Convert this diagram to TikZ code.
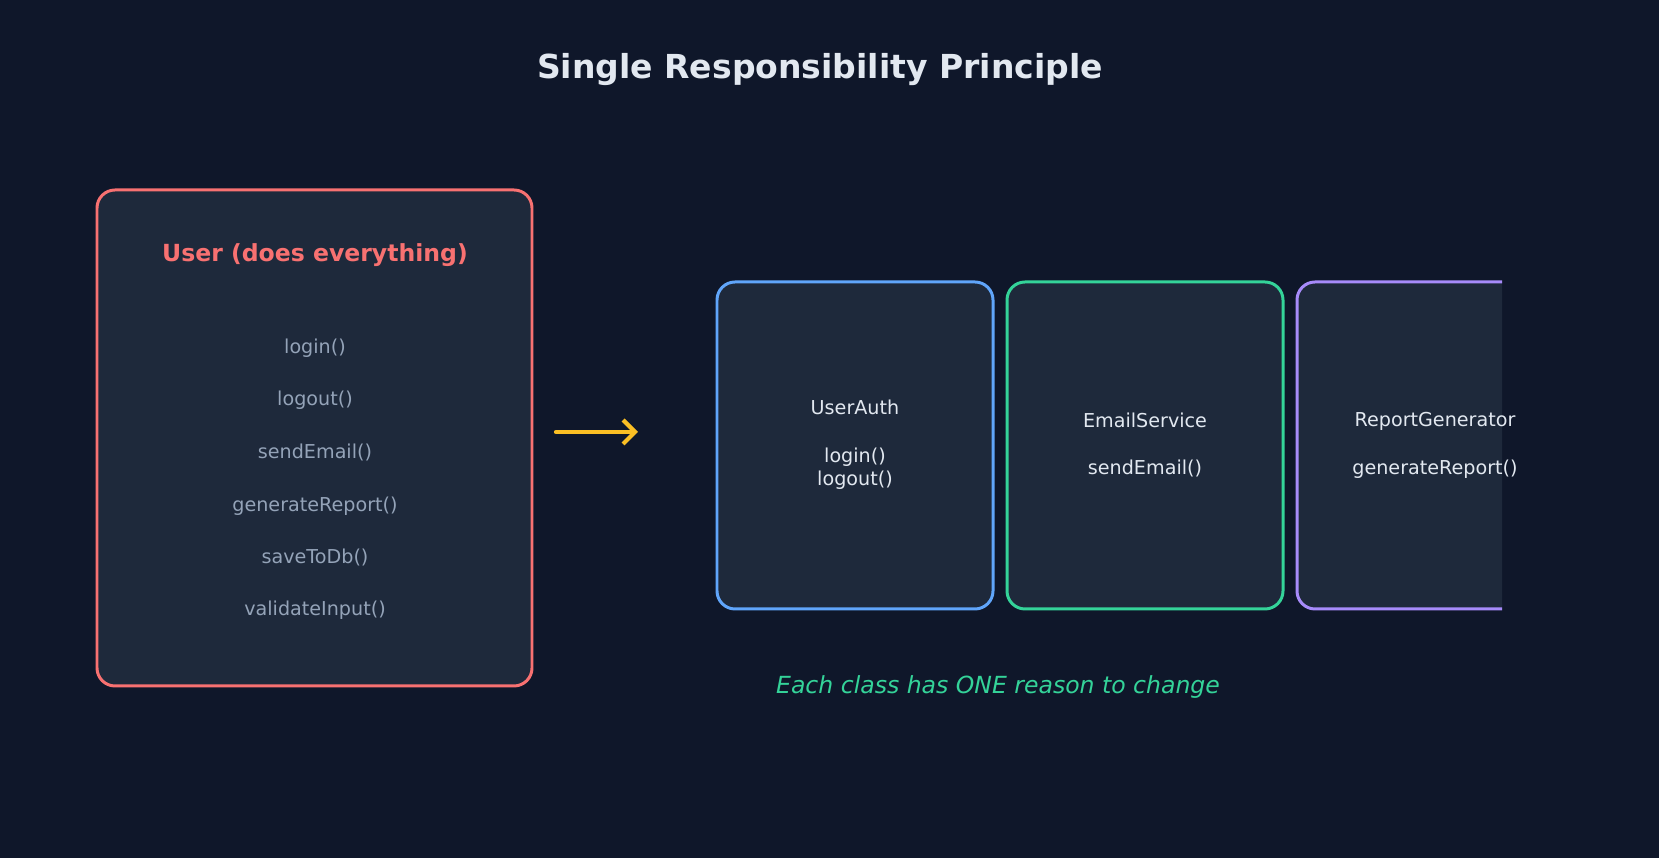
\documentclass[tikz,border=0pt]{standalone}
\usepackage{fontspec}
\setmainfont{DejaVu Sans}
\usetikzlibrary{arrows.meta}
\definecolor{bgcol}{HTML}{0F172A}
\definecolor{boxcol}{HTML}{1E293B}
\definecolor{redcol}{HTML}{F87171}
\definecolor{bluecol}{HTML}{60A5FA}
\definecolor{greencol}{HTML}{34D399}
\definecolor{purplecol}{HTML}{A78BFA}
\definecolor{graycol}{HTML}{94A3B8}
\definecolor{whitecol}{HTML}{E2E8F0}
\definecolor{yellowcol}{HTML}{FBBF24}
\tikzset{
	cls/.style={draw=#1, fill=boxcol, line width=0.85pt, rounded corners=0.18cm},
	meth/.style={text=graycol, font=\fontsize{5.45}{6.5}\selectfont},
	txt/.style={text=whitecol, font=\fontsize{5.45}{6.5}\selectfont, align=center}
}
\begin{document}
\begin{tikzpicture}
	\fill[bgcol] (0,0) rectangle (16.59,8.58);		%background
	\useasboundingbox (0,0) rectangle (16.59,8.58);
	\node[text=whitecol, font=\fontsize{9.4}{11}\bfseries] (title) at (8.2,7.88) {Single Responsibility Principle};

	%big class
	\draw[cls=redcol] (0.97,1.72) rectangle (5.32,6.68);
	\node[text=redcol, font=\fontsize{6.7}{8}\bfseries] (user) at (3.15,6.03) {User (does everything)};
	\foreach \m/\y in {login()/3.48, logout()/4.00, sendEmail()/4.53, generateReport()/5.06, saveToDb()/5.58, validateInput()/6.10}
		\node[meth] at (3.15,8.58-\y) {\m};

	%arrow
	\coordinate (a1) at (5.56,4.26);
	\coordinate (a2) at (6.38,4.26);
	\draw[-{Straight Barb[length=1.2mm,width=2.4mm]}, yellowcol, line width=1.2pt, line cap=round] (a1) -- (a2);

	%small classes
	\draw[cls=bluecol] (7.17,2.49) rectangle (9.93,5.76);
	\node[txt] (auth) at (8.55,4.13) {UserAuth\\[2.5mm]login()\\logout()};
	\draw[cls=greencol] (10.07,2.49) rectangle (12.83,5.76);
	\node[txt] (email) at (11.45,4.13) {EmailService\\[2.5mm]sendEmail()};
	\begin{scope}
		\clip (12.9,2.3) rectangle (15.02,6.0);
		\draw[cls=purplecol] (12.97,2.49) rectangle (15.73,5.76);
	\end{scope}
	\node[txt] (report) at (14.35,4.13) {ReportGenerator\\[2.5mm]generateReport()};

	\node[text=greencol, font=\fontsize{6.7}{8}\itshape] (note) at (9.98,1.71) {Each class has ONE reason to change};
\end{tikzpicture}
\end{document}
